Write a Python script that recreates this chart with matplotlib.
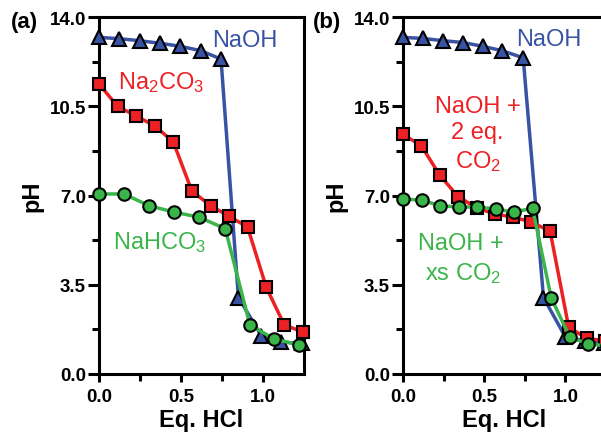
import matplotlib
matplotlib.use('Agg')
import matplotlib.pyplot as plt
from matplotlib.ticker import FixedLocator, FormatStrFormatter

plt.rcParams['font.family'] = ['Liberation Sans', 'DejaVu Sans']
plt.rcParams['mathtext.fontset'] = 'custom'
plt.rcParams['mathtext.rm'] = 'Liberation Sans'
plt.rcParams['mathtext.default'] = 'regular'

blue = '#3953a4'
red = '#ed2024'
green = '#3ab54a'

# panel (a)
naoh_a_x = [0, 0.124, 0.248, 0.372, 0.496, 0.62, 0.744, 0.85, 0.99, 1.11, 1.24]
naoh_a_y = [13.2, 13.15, 13.07, 12.97, 12.85, 12.68, 12.35, 3.0, 1.5, 1.25, 1.2]
na2co3_x = [0, 0.113, 0.226, 0.34, 0.453, 0.566, 0.68, 0.79, 0.906, 1.02, 1.13, 1.245]
na2co3_y = [11.37, 10.5, 10.12, 9.73, 9.1, 7.18, 6.6, 6.2, 5.76, 3.4, 1.92, 1.65]
nahco3_x = [0, 0.152, 0.305, 0.457, 0.61, 0.77, 0.92, 1.07, 1.22]
nahco3_y = [7.06, 7.06, 6.6, 6.35, 6.15, 5.7, 1.92, 1.37, 1.14]

# panel (b)
naoh_b_x = [0, 0.123, 0.247, 0.37, 0.49, 0.61, 0.74, 0.865, 1.0, 1.12, 1.24]
naoh_b_y = [13.2, 13.16, 13.07, 13.0, 12.85, 12.68, 12.4, 3.0, 1.45, 1.3, 1.2]
co2_2eq_x = [0, 0.113, 0.226, 0.34, 0.453, 0.566, 0.68, 0.79, 0.906, 1.02, 1.13, 1.245]
co2_2eq_y = [9.4, 8.95, 7.8, 6.95, 6.52, 6.27, 6.15, 5.96, 5.6, 1.84, 1.4, 1.3]
co2_xs_x = [0, 0.114, 0.228, 0.342, 0.456, 0.57, 0.684, 0.798, 0.912, 1.026, 1.14, 1.254]
co2_xs_y = [6.86, 6.82, 6.6, 6.55, 6.55, 6.47, 6.35, 6.5, 3.0, 1.45, 1.18, 1.1]


def plot_series(ax, x, y, color, marker, ms, z):
    ax.plot(x, y, color=color, lw=2.5, marker=marker, ms=ms, mfc=color,
            mec='black', mew=1.5, clip_on=False, zorder=z)


def style_axes(ax):
    ax.set_xlim(0, 1.25)
    ax.set_ylim(0, 14)
    for side in ['left', 'bottom', 'top', 'right']:
        ax.spines[side].set_linewidth(2.2)
    ax.set_yticks([0, 3.5, 7, 10.5, 14])
    ax.yaxis.set_minor_locator(FixedLocator([1.75, 5.25, 8.75, 12.25]))
    ax.yaxis.set_major_formatter(FormatStrFormatter('%.1f'))
    ax.set_xticks([0, 0.5, 1.0])
    ax.xaxis.set_minor_locator(FixedLocator([0.25, 0.75]))
    ax.xaxis.set_major_formatter(FormatStrFormatter('%.1f'))
    ax.tick_params(axis='y', which='major', direction='out', length=8, width=2.2, pad=1.5,
                   labelsize=13.5)
    ax.tick_params(axis='y', which='minor', direction='out', length=5, width=2.2)
    ax.tick_params(axis='x', which='major', direction='out', length=6, width=2.2, pad=4,
                   labelsize=13.5)
    ax.tick_params(axis='x', which='minor', direction='out', length=5, width=2.2)
    for lab in ax.get_xticklabels() + ax.get_yticklabels():
        lab.set_fontweight('bold')
    ax.set_xlabel('Eq. HCl', fontsize=17, fontweight='bold', labelpad=2)
    ax.set_ylabel('pH', fontsize=17, fontweight='bold', labelpad=4)


fig = plt.figure(figsize=(6.01, 4.35), dpi=100)
ax1 = fig.add_axes([99 / 601, 1 - 375 / 435, 205 / 601, 357 / 435])
ax2 = fig.add_axes([403 / 601, 1 - 375 / 435, 203 / 601, 357 / 435])

plot_series(ax1, naoh_a_x, naoh_a_y, blue, '^', 9.5, 3)
plot_series(ax1, na2co3_x, na2co3_y, red, 's', 8.5, 4)
plot_series(ax1, nahco3_x, nahco3_y, green, 'o', 9, 5)
style_axes(ax1)

ax1.text(0.89, 12.86, 'NaOH', color=blue, fontsize=17, ha='center', va='baseline')
ax1.text(0.378, 11.2, 'Na$_2$CO$_3$', color=red, fontsize=17, ha='center', va='baseline')
ax1.text(0.372, 4.94, 'NaHCO$_3$', color=green, fontsize=17, ha='center', va='baseline')

plot_series(ax2, naoh_b_x, naoh_b_y, blue, '^', 9.5, 3)
plot_series(ax2, co2_2eq_x, co2_2eq_y, red, 's', 8.5, 4)
plot_series(ax2, co2_xs_x, co2_xs_y, green, 'o', 9, 5)
style_axes(ax2)

ax2.text(0.895, 12.9, 'NaOH', color=blue, fontsize=17, ha='center', va='baseline')
ax2.text(0.46, 10.27, 'NaOH +', color=red, fontsize=17, ha='center', va='baseline')
ax2.text(0.46, 9.25, '2 eq.', color=red, fontsize=17, ha='center', va='baseline')
ax2.text(0.46, 8.12, 'CO$_2$', color=red, fontsize=17, ha='center', va='baseline')
ax2.text(0.358, 4.9, 'NaOH +', color=green, fontsize=17, ha='center', va='baseline')
ax2.text(0.37, 3.73, 'xs CO$_2$', color=green, fontsize=17, ha='center', va='baseline')

fig.text(11 / 601, 1 - 28 / 435, '(a)', fontsize=16, fontweight='bold', va='baseline')
fig.text(313 / 601, 1 - 28 / 435, '(b)', fontsize=16, fontweight='bold', va='baseline')

fig.savefig('out.png', dpi=100)
